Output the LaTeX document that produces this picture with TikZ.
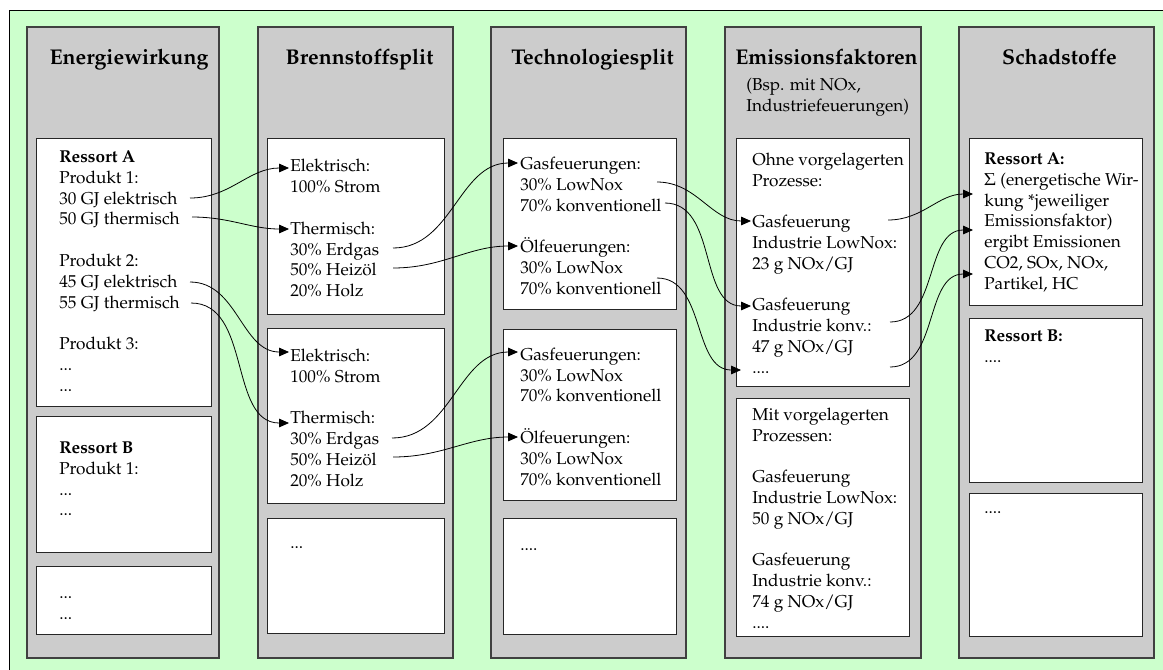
\documentclass[tikz,border=0pt]{standalone}
\usepackage[T1]{fontenc}
\usepackage{mathpazo}
\usepackage{tikz}
\usetikzlibrary{arrows.meta}

\definecolor{bgGreen}{RGB}{204,255,204}
\definecolor{colGrey}{RGB}{204,204,204}
\newcommand{\bodyfont}{\fontsize{12.9}{15.6}\selectfont}
\newcommand{\headfont}{\fontsize{16}{19}\selectfont\bfseries}

\tikzset{
  column/.style={draw=black!75, line width=0.8pt, fill=colGrey},
  cell/.style={draw=black!85, line width=0.7pt, fill=white},
  head/.style={anchor=base, inner sep=0pt, font=\headfont},
  txt/.style={anchor=north west, inner sep=0pt, align=left, font=\bodyfont},
  flow/.style={line width=0.6pt, -{Triangle[length=7.5pt,width=6.5pt]}}
}

\begin{document}
\begin{tikzpicture}[x=0.75pt,y=0.75pt,yscale=-1,xscale=1]
\useasboundingbox (0,0) rectangle (1163,669);

%Background
\draw [fill=bgGreen, line width=0.7pt] (9,10) rectangle (1180,690) ;

%Columns
\draw [column] (27,27) rectangle (219,658) ;
\draw [column] (258,27) rectangle (453,658) ;
\draw [column] (491,27) rectangle (686,658) ;
\draw [column] (725,27) rectangle (921,658) ;
\draw [column] (959,27) rectangle (1154,658) ;

%Cells
\draw [cell] (36,138) rectangle (211,406) ;
\draw [cell] (36,416) rectangle (211,552) ;
\draw [cell] (36,566) rectangle (211,634) ;
\draw [cell] (267,138) rectangle (444,314) ;
\draw [cell] (267,328) rectangle (444,503) ;
\draw [cell] (267,518) rectangle (444,633) ;
\draw [cell] (503,138) rectangle (676,309) ;
\draw [cell] (503,329) rectangle (676,500) ;
\draw [cell] (503,518) rectangle (676,634) ;
\draw [cell] (736,138) rectangle (909,386) ;
\draw [cell] (736,398) rectangle (909,636) ;
\draw [cell] (969,138) rectangle (1142,305) ;
\draw [cell] (969,318) rectangle (1142,482) ;
\draw [cell] (969,493) rectangle (1142,636) ;

%Headings
\node [head] (hEnergie) at (129,64) {Energiewirkung};
\node [head] (hBrenn) at (359.5,64) {Brennstoffsplit};
\node [head] (hTech) at (592.5,64) {Technologiesplit};
\node [head] (hEmis) at (826.5,64) {Emissionsfaktoren};
\node [head] (hSchad) at (1059.5,64) {Schadstoffe};
\node [txt] (efSub) at (746,75.9) {\strut(Bsp. mit NOx,\\Industriefeuerungen)};

% Text Node
\node [txt] (ewA) at (59,147.7) {\strut\textbf{Ressort A}\\Produkt 1:\\30 GJ elektrisch\\50 GJ thermisch\\[15.6pt]Produkt 2:\\45 GJ elektrisch\\55 GJ thermisch\\[15.6pt]Produkt 3:\\...\\...};
\node [txt] (ewB) at (59,438.7) {\strut\textbf{Ressort B}\\Produkt 1:\\...\\...};
\node [txt] (ewC) at (59,583.4) {\strut...\\...};
% Text Node
\node [txt] (bsA) at (290,157.1) {\strut Elektrisch:\\100\% Strom\\[15.6pt]Thermisch:\\30\% Erdgas\\50\% Heizöl\\20\% Holz};
\node [txt] (bsB) at (290,346.4) {\strut Elektrisch:\\100\% Strom\\[15.6pt]Thermisch:\\30\% Erdgas\\50\% Heizöl\\20\% Holz};
\node [txt] (bsC) at (290,533.7) {\strut...};
% Text Node
\node [txt] (tsA) at (520,154.6) {\strut Gasfeuerungen:\\30\% LowNox\\70\% konventionell\\[15.6pt]Ölfeuerungen:\\30\% LowNox\\70\% konventionell};
\node [txt] (tsB) at (520,345.4) {\strut Gasfeuerungen:\\30\% LowNox\\70\% konventionell\\[15.6pt]Ölfeuerungen:\\30\% LowNox\\70\% konventionell};
\node [txt] (tsC) at (520,535.4) {\strut....};
% Text Node
\node [txt] (efA) at (752,150.4) {\strut Ohne vorgelagerten\\Prozesse:\\[15.6pt]Gasfeuerung\\Industrie LowNox:\\23 g NOx/GJ\\[15.6pt]Gasfeuerung\\Industrie konv.:\\47 g NOx/GJ\\....};
\node [txt] (efB) at (752,405.4) {\strut Mit vorgelagerten\\Prozessen:\\[15.6pt]Gasfeuerung\\Industrie LowNox:\\50 g NOx/GJ\\[15.6pt]Gasfeuerung\\Industrie konv.:\\74 g NOx/GJ\\....};
% Text Node
\node [txt] (sdA) at (984,149.7) {\strut\textbf{Ressort A:}\\$\Sigma$ (energetische Wir-\\kung *jeweiliger\\Emissionsfaktor)\\ergibt Emissionen\\CO2, SOx, NOx,\\Partikel, HC};
\node [txt] (sdB) at (984,327.1) {\strut\textbf{Ressort B:}\\....};
\node [txt] (sdC) at (984,498.7) {\strut....};

%Connector ends
\coordinate (p1el) at (190,198) ;
\coordinate (p1th) at (192,217) ;
\coordinate (p2el) at (190,282) ;
\coordinate (p2th) at (191,303) ;
\coordinate (bsAel) at (289,168) ;
\coordinate (bsAth) at (289,229) ;
\coordinate (bsBel) at (289,352) ;
\coordinate (bsBth) at (289,423) ;
\coordinate (bsAgas) at (393,248) ;
\coordinate (bsAoel) at (393,268) ;
\coordinate (bsBgas) at (392,438) ;
\coordinate (bsBoel) at (393,457) ;
\coordinate (tsAgas) at (518,163) ;
\coordinate (tsAoel) at (518,246) ;
\coordinate (tsBgas) at (518,352) ;
\coordinate (tsBoel) at (518,437) ;
\coordinate (tsAlow) at (657,182) ;
\coordinate (tsAkonv) at (665,203) ;
\coordinate (tsAoellow) at (657,278) ;
\coordinate (efLow) at (751,221) ;
\coordinate (efKonv) at (751,306) ;
\coordinate (efDots) at (741,370) ;
\coordinate (efLowOut) at (888,220) ;
\coordinate (efKonvOut) at (890,322) ;
\coordinate (efDotsOut) at (890,367) ;
\coordinate (sdA1) at (973,194) ;
\coordinate (sdA2) at (973,230) ;
\coordinate (sdA3) at (973,274) ;

%Connectors
\draw [flow] (p1el) to[out=0,in=180] (bsAel) ;
\draw [flow] (p1th) to[out=0,in=180] (bsAth) ;
\draw [flow] (p2el) to[out=0,in=180] (bsBel) ;
\draw [flow] (p2th) to[out=0,in=180] (bsBth) ;
\draw [flow] (bsAgas) to[out=0,in=180] (tsAgas) ;
\draw [flow] (bsAoel) to[out=0,in=180] (tsAoel) ;
\draw [flow] (bsBgas) to[out=0,in=180] (tsBgas) ;
\draw [flow] (bsBoel) to[out=0,in=180] (tsBoel) ;
\draw [flow] (tsAlow) to[out=0,in=180] (efLow) ;
\draw [flow] (tsAkonv) to[out=0,in=180] (efKonv) ;
\draw [flow] (tsAoellow) to[out=0,in=180] (efDots) ;
\draw [flow] (efLowOut) to[out=0,in=180] (sdA1) ;
\draw [flow] (efKonvOut) to[out=0,in=180] (sdA2) ;
\draw [flow] (efDotsOut) to[out=0,in=180] (sdA3) ;

\end{tikzpicture}
\end{document}
